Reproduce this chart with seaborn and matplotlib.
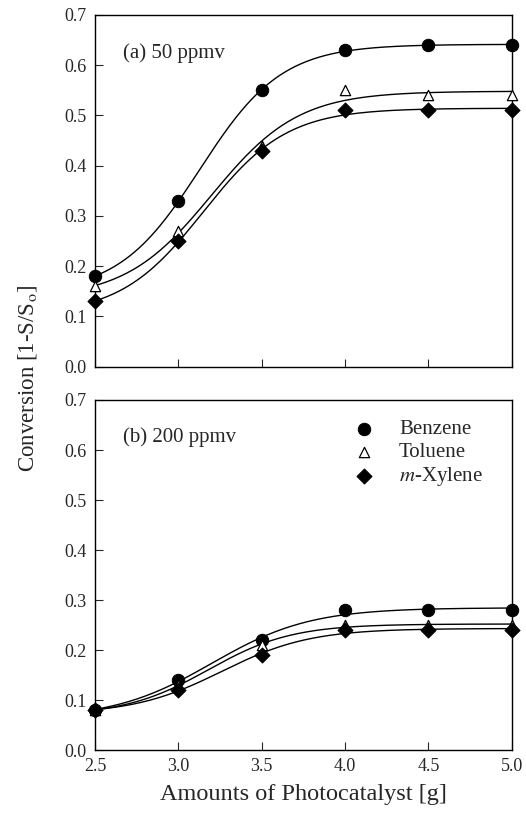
import numpy as np
import pandas as pd
import matplotlib
matplotlib.use("Agg")
import matplotlib.pyplot as plt
import seaborn as sns

# catalyst amount [g]
amounts = [2.5, 3.0, 3.5, 4.0, 4.5, 5.0]

# (a) 50 ppmv
benzene_50 = [0.18, 0.33, 0.55, 0.63, 0.64, 0.64]
toluene_50 = [0.16, 0.27, 0.44, 0.55, 0.54, 0.54]
xylene_50 = [0.13, 0.25, 0.43, 0.51, 0.51, 0.51]

# (b) 200 ppmv
benzene_200 = [0.08, 0.14, 0.22, 0.28, 0.28, 0.28]
toluene_200 = [0.08, 0.13, 0.21, 0.25, 0.25, 0.25]
xylene_200 = [0.08, 0.12, 0.19, 0.24, 0.24, 0.24]

compounds = ["Benzene", "Toluene", "$m$-Xylene"]
panel_labels = ["(a) 50 ppmv", "(b) 200 ppmv"]
yticks = [0.0, 0.1, 0.2, 0.3, 0.4, 0.5, 0.6, 0.7]
xticks = [2.5, 3.0, 3.5, 4.0, 4.5, 5.0]


def fit_logistic(x, y):
    # least squares sigmoid: grid over centre/width, linear solve for low/high
    x = np.asarray(x)
    y = np.asarray(y)
    best = None
    for x0 in np.linspace(2.8, 3.8, 101):
        for w in np.linspace(0.05, 0.8, 151):
            s = 1 / (1 + np.exp(-(x - x0) / w))
            A = np.column_stack([1 - s, s])
            coef, *_ = np.linalg.lstsq(A, y, rcond=None)
            err = np.sum((A @ coef - y) ** 2)
            if best is None or err < best[0]:
                best = (err, x0, w, coef)
    _, x0, w, (lo, hi) = best
    xs = np.linspace(x.min(), x.max(), 200)
    s = 1 / (1 + np.exp(-(xs - x0) / w))
    return xs, lo + (hi - lo) * s


sns.set_style("ticks")
plt.rcParams["font.family"] = ["Liberation Serif", "DejaVu Serif"]
plt.rcParams["mathtext.fontset"] = "stix"

fig = plt.figure(figsize=(5.26, 8.14), dpi=100)
ax1 = fig.add_axes([0.1806, 0.5495, 0.7924, 0.4321])
ax2 = fig.add_axes([0.1806, 0.0786, 0.7924, 0.4300])

styles = [
    dict(marker="o", s=80, color="black", edgecolor="black"),
    dict(marker="^", s=55, color="white", edgecolor="black", linewidth=0.9),
    dict(marker="D", s=60, color="black", edgecolor="black"),
]

panels = [
    (ax1, [benzene_50, toluene_50, xylene_50]),
    (ax2, [benzene_200, toluene_200, xylene_200]),
]

for i, (ax, series) in enumerate(panels):
    for name, vals, st in zip(compounds, series, styles):
        xs, ys = fit_logistic(amounts, vals)
        sns.lineplot(x=xs, y=ys, ax=ax, color="black", lw=1.0)
        df = pd.DataFrame({"x": amounts, "y": vals})
        sns.scatterplot(data=df, x="x", y="y", ax=ax, label=name, zorder=5,
                        clip_on=False, **st)
    ax.set_xlim(2.5, 5.0)
    ax.set_ylim(0.0, 0.7)
    ax.set_xticks(xticks)
    ax.set_yticks(yticks)
    ax.set_yticklabels([f"{v:.1f}" for v in yticks])
    ax.tick_params(direction="in", length=6, width=0.8, labelsize=13, pad=6)
    for sp in ax.spines.values():
        sp.set_visible(True)
        sp.set_linewidth(1.0)
        sp.set_color("black")
    ax.set_xlabel("")
    ax.set_ylabel("")
    ax.text(2.67, 0.625, panel_labels[i], fontsize=15, va="center", ha="left")

ax1.set_xticklabels([])
ax1.get_legend().remove()
ax2.set_xticklabels([f"{v:.1f}" for v in xticks])
ax2.set_xlabel("Amounts of Photocatalyst [g]", fontsize=17.5, labelpad=6)
ax2.legend(loc="upper right", bbox_to_anchor=(0.965, 0.985), frameon=False,
           fontsize=15, handletextpad=0.7, labelspacing=0.15, borderpad=0.2)

fig.text(0.052, 0.535, "Conversion [1-S/S$_\\mathrm{o}$]", rotation=90,
         fontsize=16.5, va="center", ha="center")

fig.savefig("out.png", dpi=100)
